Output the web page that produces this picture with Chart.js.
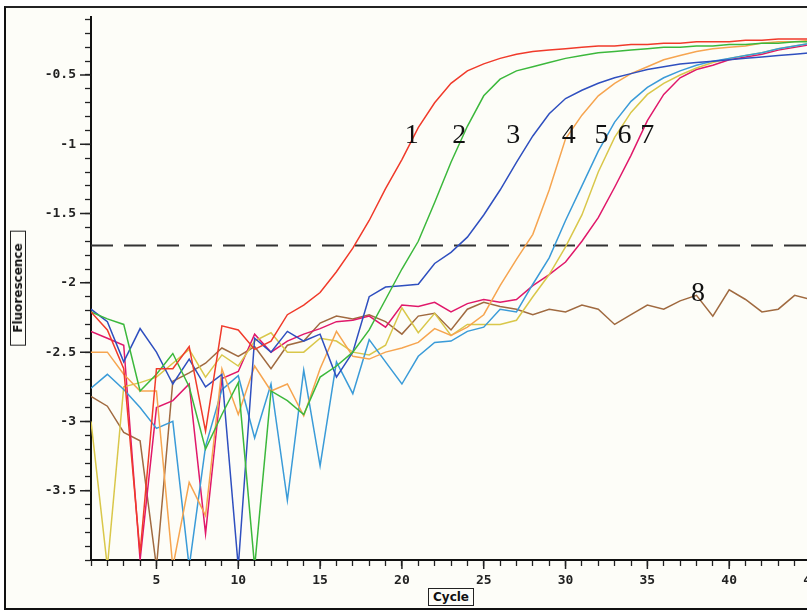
<!DOCTYPE html>
<html>
<head>
<meta charset="utf-8">
<script src="https://cdn.jsdelivr.net/npm/chart.js@4.4.1/dist/chart.umd.min.js"></script>
<style>
  html, body { margin: 0; padding: 0; background: #ffffff; overflow: hidden; }
  #frame {
    position: absolute; left: 4px; top: 6px; width: 840px; height: 600px;
    border-left: 2px solid #111; border-top: 2px solid #222; border-bottom: 2px solid #111;
    background: #fdfdf8;
  }
  #wrap { position: absolute; left: 0; top: 0; width: 830px; height: 611px; }
  .axis-title {
    position: absolute; font-family: "DejaVu Sans", sans-serif; font-weight: bold;
    font-size: 12px; color: #111; border: 1.5px solid #222; padding: 0 3px;
    line-height: 14px; background: #fdfdf8; white-space: nowrap;
  }
  #ytitle { left: 18px; top: 288px; transform: translate(-50%, -50%) rotate(-90deg); padding: 0 12px; }
  #xtitle { left: 451px; top: 597px; transform: translate(-50%, -50%); padding: 1px 4px; }
</style>
</head>
<body>
<div id="frame"></div>
<div id="wrap"><canvas id="pcrChart" width="830" height="611"></canvas></div>
<div class="axis-title" id="ytitle">Fluorescence</div>
<div class="axis-title" id="xtitle">Cycle</div>
<script>
// amplification curves
const cycles = [1,2,3,4,5,6,7,8,9,10,11,12,13,14,15,16,17,18,19,20,21,22,23,24,25,26,27,28,29,30,31,32,33,34,35,36,37,38,39,40,41,42,43,44,45];

const curve1 = [-2.21,-2.34,-2.62,-3.95,-2.62,-2.62,-2.46,-3.07,-2.31,-2.34,-2.48,-2.42,-2.23,-2.16,-2.07,-1.92,-1.75,-1.55,-1.32,-1.11,-0.88,-0.70,-0.56,-0.47,-0.42,-0.38,-0.35,-0.33,-0.32,-0.31,-0.30,-0.29,-0.29,-0.28,-0.28,-0.27,-0.27,-0.26,-0.26,-0.26,-0.25,-0.25,-0.24,-0.24,-0.24];
const curve2 = [-2.21,-2.26,-2.30,-2.78,-2.66,-2.51,-2.75,-3.20,-2.95,-2.72,-4.05,-2.78,-2.85,-2.95,-2.68,-2.60,-2.50,-2.34,-2.12,-1.90,-1.70,-1.42,-1.13,-0.87,-0.65,-0.53,-0.47,-0.44,-0.41,-0.38,-0.36,-0.34,-0.33,-0.32,-0.31,-0.30,-0.30,-0.29,-0.29,-0.28,-0.28,-0.27,-0.27,-0.26,-0.26];
const curve3 = [-2.19,-2.28,-2.57,-2.33,-2.50,-2.73,-2.55,-2.75,-2.66,-4.05,-2.40,-2.50,-2.35,-2.42,-2.37,-2.68,-2.50,-2.10,-2.03,-2.02,-2.01,-1.86,-1.78,-1.67,-1.51,-1.33,-1.13,-0.94,-0.78,-0.67,-0.61,-0.56,-0.52,-0.49,-0.46,-0.44,-0.42,-0.41,-0.40,-0.39,-0.38,-0.37,-0.36,-0.35,-0.34];
const curve4 = [-2.50,-2.50,-2.66,-2.78,-2.78,-4.05,-3.44,-3.68,-2.62,-2.95,-2.60,-2.78,-2.73,-2.96,-2.62,-2.35,-2.53,-2.55,-2.50,-2.47,-2.43,-2.33,-2.38,-2.32,-2.23,-2.02,-1.83,-1.65,-1.33,-0.96,-0.79,-0.65,-0.56,-0.49,-0.44,-0.39,-0.36,-0.33,-0.31,-0.30,-0.29,-0.27,-0.26,-0.26,-0.25];
const curve5 = [-2.76,-2.66,-2.77,-2.90,-3.05,-3.00,-4.05,-3.18,-2.77,-2.67,-3.12,-2.73,-3.57,-2.63,-3.32,-2.57,-2.80,-2.41,-2.57,-2.73,-2.53,-2.43,-2.42,-2.35,-2.32,-2.19,-2.21,-2.01,-1.82,-1.55,-1.30,-1.05,-0.84,-0.69,-0.59,-0.52,-0.47,-0.43,-0.40,-0.38,-0.36,-0.34,-0.31,-0.29,-0.27];
const curve6 = [-3.00,-4.05,-2.75,-2.72,-2.68,-2.58,-2.48,-2.68,-2.52,-2.60,-2.42,-2.36,-2.50,-2.50,-2.40,-2.42,-2.50,-2.52,-2.45,-2.18,-2.36,-2.22,-2.38,-2.30,-2.30,-2.30,-2.27,-2.10,-1.94,-1.74,-1.51,-1.20,-0.95,-0.77,-0.64,-0.56,-0.50,-0.45,-0.41,-0.38,-0.36,-0.34,-0.31,-0.29,-0.27];
const curve7 = [-2.35,-2.40,-2.45,-4.00,-2.90,-2.85,-2.73,-3.81,-2.69,-2.64,-2.37,-2.50,-2.42,-2.37,-2.33,-2.28,-2.27,-2.24,-2.32,-2.16,-2.17,-2.14,-2.21,-2.15,-2.12,-2.14,-2.12,-2.02,-1.94,-1.85,-1.70,-1.53,-1.31,-1.08,-0.83,-0.64,-0.52,-0.46,-0.43,-0.39,-0.37,-0.35,-0.32,-0.30,-0.28];
const curve8 = [-2.82,-2.89,-3.08,-3.14,-4.05,-2.71,-2.65,-2.58,-2.47,-2.53,-2.46,-2.62,-2.45,-2.42,-2.29,-2.24,-2.26,-2.23,-2.28,-2.37,-2.24,-2.22,-2.34,-2.19,-2.14,-2.17,-2.19,-2.23,-2.19,-2.21,-2.16,-2.19,-2.30,-2.23,-2.16,-2.19,-2.13,-2.09,-2.24,-2.05,-2.12,-2.21,-2.19,-2.09,-2.12];

const threshold = -1.73;

const seriesNames = ['1', '2', '3', '4', '5', '6', '7', '8'];
const seriesValues = [curve1, curve2, curve3, curve4, curve5, curve6, curve7, curve8];
const seriesColors = ['#f03a2a', '#3cb83c', '#2f4fbf', '#f6a550', '#3a9bd8', '#d9c74a', '#e0186a', '#a06a40'];

// where the curve numbers sit (cycle, fluorescence)
const labelCycles = [20.6, 23.5, 26.8, 30.2, 32.2, 33.6, 35.0, 38.1];
const labelValues = [-0.94, -0.94, -0.94, -0.94, -0.94, -0.94, -0.94, -2.08];

const datasets = seriesValues.map((vals, i) => ({
    label: seriesNames[i],
    data: cycles.map((c, j) => ({ x: c, y: vals[j] })),
    borderColor: seriesColors[i],
    borderWidth: 1.5,
    pointRadius: 0,
    tension: 0,
    fill: false
}));

datasets.push({
    label: 'threshold',
    data: cycles.map(c => ({ x: c, y: threshold })),
    borderColor: '#333333',
    borderWidth: 2,
    borderDash: [22, 11],
    pointRadius: 0,
    fill: false
});

// longer tick marks on the labelled ticks + the curve numbers
const extrasPlugin = {
    id: 'extras',
    afterDatasetsDraw(chart) {
        const ctx = chart.ctx;
        ctx.save();
        ctx.font = '28px "Liberation Serif", serif';
        ctx.fillStyle = '#111';
        ctx.textAlign = 'center';
        ctx.textBaseline = 'middle';
        seriesNames.forEach((name, i) => {
            const x = chart.scales.x.getPixelForValue(labelCycles[i]);
            const y = chart.scales.y.getPixelForValue(labelValues[i]);
            ctx.fillText(name, x, y);
        });
        ctx.restore();
    },
    afterDraw(chart) {
        const ctx = chart.ctx;
        const xs = chart.scales.x, ys = chart.scales.y;
        ctx.save();
        ctx.strokeStyle = '#222';
        ctx.lineWidth = 1.5;
        ctx.beginPath();
        xs.ticks.forEach(t => {
            if (Math.round(t.value) % 5 === 0) {
                const px = xs.getPixelForValue(t.value);
                ctx.moveTo(px, xs.top);
                ctx.lineTo(px, xs.top + 9);
            }
        });
        ys.ticks.forEach(t => {
            const v = Math.round(t.value * 10);
            if (v % 5 === 0 && v !== -40) {
                const py = ys.getPixelForValue(t.value);
                ctx.moveTo(ys.right - 11, py);
                ctx.lineTo(ys.right, py);
            }
        });
        ctx.stroke();
        ctx.restore();
    }
};

const tickFont = { family: '"DejaVu Sans Mono", monospace', weight: 'bold', size: 13 };

new Chart(document.getElementById('pcrChart').getContext('2d'), {
    type: 'line',
    data: { datasets: datasets },
    options: {
        responsive: false,
        animation: false,
        layout: { padding: { top: 13, right: 19, left: 0, bottom: 0 } },
        plugins: { legend: { display: false }, tooltip: { enabled: false } },
        scales: {
            x: {
                type: 'linear',
                min: 1,
                max: 45,
                afterFit(scale) { scale.height = 51; },
                border: { display: true, color: '#111', width: 2 },
                grid: { drawOnChartArea: false, drawTicks: true, tickLength: 6, tickColor: '#222', tickWidth: 1.3 },
                ticks: {
                    stepSize: 1,
                    autoSkip: false,
                    maxRotation: 0,
                    maxTicksLimit: 100,
                    includeBounds: false,
                    padding: 7,
                    color: '#222',
                    font: tickFont,
                    callback: v => (Math.round(v) % 5 === 0 ? String(Math.round(v)) : '')
                }
            },
            y: {
                type: 'linear',
                min: -4,
                max: -0.08,
                afterFit(scale) { scale.width = 91; },
                border: { display: true, color: '#111', width: 2 },
                grid: { drawOnChartArea: false, drawTicks: true, tickLength: 6, tickColor: '#222', tickWidth: 1.3 },
                ticks: {
                    stepSize: 0.1,
                    autoSkip: false,
                    maxTicksLimit: 100,
                    includeBounds: false,
                    padding: 9,
                    color: '#222',
                    font: tickFont,
                    callback: v => {
                        const t = Math.round(v * 10);
                        if (t % 5 !== 0 || t === -40) return '';
                        return String(t / 10);
                    }
                }
            }
        }
    },
    plugins: [extrasPlugin]
});
</script>
</body>
</html>
